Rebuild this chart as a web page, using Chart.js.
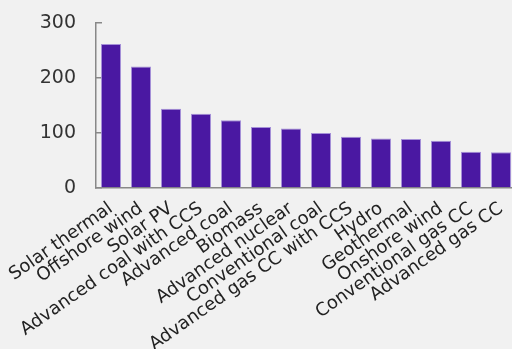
<!DOCTYPE html>
<html>
<head>
<meta charset="utf-8">
<script src="https://cdn.jsdelivr.net/npm/chart.js@4"></script>
<style>
html,body{margin:0;padding:0;background:#f1f1f1;overflow:hidden;}
#wrap{position:relative;width:516px;height:349px;}
</style>
</head>
<body>
<div id="wrap"><canvas id="c"></canvas></div>
<script>
const categories = ["Solar thermal","Offshore wind","Solar PV","Advanced coal with CCS","Advanced coal","Biomass","Advanced nuclear","Conventional coal","Advanced gas CC with CCS","Hydro","Geothermal","Onshore wind","Conventional gas CC","Advanced gas CC"];
const costValues = [262, 221, 144, 135, 123, 111, 108, 100, 93, 90, 89, 86, 66, 65];
const yTicks = [0, 100, 200, 300];

new Chart(document.getElementById('c'), {
  type: 'bar',
  data: {
    labels: categories,
    datasets: [{
      data: costValues,
      backgroundColor: '#4a18a2',
      borderColor: '#a590d8',
      borderWidth: 1,
      categoryPercentage: 1,
      barPercentage: 0.67
    }]
  },
  options: {
    responsive: true,
    maintainAspectRatio: false,
    animation: false,
    layout: {padding: {top: 23, right: 0, left: 0, bottom: 0}},
    plugins: {legend: {display: false}, tooltip: {enabled: false}},
    scales: {
      x: {
        grid: {display: false},
        border: {display: true, color: '#888888', width: 1.5},
        ticks: {
          autoSkip: false,
          minRotation: 35,
          maxRotation: 35,
          padding: 2,
          color: '#222222',
          font: {family: 'DejaVu Sans', size: 18}
        },
        afterFit: (s) => { s.height = 161; s.paddingLeft = 0; s.paddingRight = 0; }
      },
      y: {
        min: 0,
        max: 300,
        afterBuildTicks: (s) => { s.ticks = yTicks.map(v => ({value: v})); },
        grid: {drawOnChartArea: false, drawTicks: true, tickLength: -6, color: '#888888', lineWidth: 1.5},
        border: {display: true, color: '#888888', width: 1.5},
        ticks: {
          padding: 26,
          color: '#333333',
          font: {family: 'DejaVu Sans', size: 19}
        },
        afterFit: (s) => { s.width = 96; s.paddingTop = 0; s.paddingBottom = 0; }
      }
    }
  }
});
</script>
</body>
</html>
